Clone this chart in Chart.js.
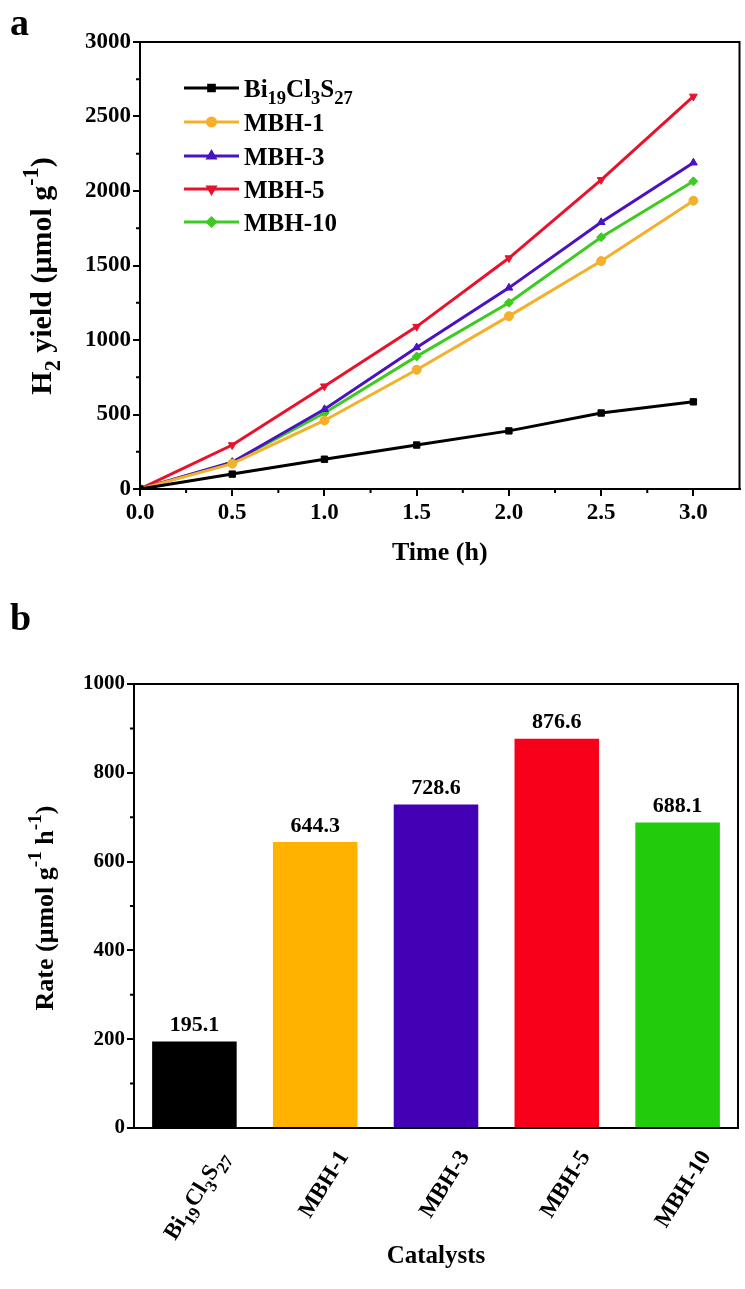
<!DOCTYPE html>
<html><head><meta charset="utf-8">
<script src="https://cdn.jsdelivr.net/npm/chart.js@4.4.1/dist/chart.umd.min.js"></script>
<style>
html,body{margin:0;padding:0;background:#fff;}
#wrap{position:relative;width:745px;height:1289px;overflow:hidden;background:#fff;}
canvas{position:absolute;left:0;}
.panel{position:absolute;font:bold 38px 'Liberation Serif',serif;color:#000;line-height:1;}
</style></head><body>
<div id="wrap">
<canvas id="ca" width="745" height="600" style="top:0"></canvas>
<canvas id="cb" width="745" height="689" style="top:600px"></canvas>
<div class="panel" style="left:10px;top:3px">a</div>
<div class="panel" style="left:10px;top:598px">b</div>
</div>
<script>
// ---------- data ----------
const timeHours = [0, 0.5, 1.0, 1.5, 2.0, 2.5, 3.0];
const yieldBi19Cl3S27 = [0, 100, 200, 295, 390, 510, 585];
const yieldMBH1 = [0, 170, 460, 800, 1160, 1530, 1935];
const yieldMBH3 = [0, 180, 535, 950, 1350, 1790, 2190];
const yieldMBH5 = [0, 295, 690, 1090, 1550, 2075, 2635];
const yieldMBH10 = [0, 180, 510, 890, 1250, 1690, 2065];
const seriesNames = ['Bi19Cl3S27', 'MBH-1', 'MBH-3', 'MBH-5', 'MBH-10'];

const catalysts = ['Bi19Cl3S27', 'MBH-1', 'MBH-3', 'MBH-5', 'MBH-10'];
const rates = [195.1, 644.3, 728.6, 876.6, 688.1];

const xTicksA = [0, 0.5, 1.0, 1.5, 2.0, 2.5, 3.0];
const xMinorA = [0.25, 0.75, 1.25, 1.75, 2.25, 2.75];
const yTicksA = [0, 500, 1000, 1500, 2000, 2500, 3000];
const yMinorA = [250, 750, 1250, 1750, 2250, 2750];
const yTicksB = [0, 200, 400, 600, 800, 1000];
const yMinorB = [100, 300, 500, 700, 900];

// ---------- styles ----------
const FONT = "'Liberation Serif', 'Times New Roman', serif";
const lineColors = ['#000000', '#F4B02A', '#4B12C2', '#E9122C', '#3DCB22'];
const barColors = ['#000000', '#FFB200', '#4300B5', '#F70019', '#22CC0A'];
const pointStyles = ['rect', 'circle', 'triangle', 'triangle', 'rectRot'];
const pointRots = [0, 0, 0, 180, 0];

// chemical formula -> rich text parts (digits as subscripts)
function formulaParts(name) {
  if (name.includes('-')) return [[name]];
  return name.match(/[A-Za-z]+|\d+/g).map(t => (/\d/.test(t) ? [t, 'sub'] : [t]));
}

function drawRich(ctx, parts, x, y, size, align) {
  let total = 0;
  const fs = p => (p[1] ? size * 0.74 : size);
  parts.forEach(p => { ctx.font = `bold ${fs(p)}px ${FONT}`; total += ctx.measureText(p[0]).width; });
  let cx = align === 'center' ? x - total / 2 : (align === 'right' ? x - total : x);
  ctx.textAlign = 'left';
  ctx.textBaseline = 'alphabetic';
  parts.forEach(p => {
    ctx.font = `bold ${fs(p)}px ${FONT}`;
    const dy = p[1] === 'sub' ? size * 0.3 : (p[1] === 'sup' ? -size * 0.45 : 0);
    ctx.fillText(p[0], cx, y + dy);
    cx += ctx.measureText(p[0]).width;
  });
}

const framePlugin = {
  id: 'frame',
  afterDraw(chart, args, opts) {
    const { ctx, chartArea: a } = chart;
    const sx = chart.scales.x, sy = chart.scales.y;
    ctx.save();
    ctx.strokeStyle = '#000';
    ctx.lineWidth = 2;
    ctx.strokeRect(a.left, a.top, a.right - a.left, a.bottom - a.top);
    ctx.beginPath();
    (opts.minorX || []).forEach(v => {
      const px = sx.getPixelForValue(v);
      ctx.moveTo(px, a.bottom); ctx.lineTo(px, a.bottom + 4);
    });
    (opts.minorY || []).forEach(v => {
      const py = sy.getPixelForValue(v);
      ctx.moveTo(a.left - 4, py); ctx.lineTo(a.left, py);
    });
    ctx.stroke();
    ctx.fillStyle = '#000';
    // rotated category labels with subscripts
    if (opts.catLabels) {
      const o = opts.catLabels;
      chart.data.labels.forEach((lab, i) => {
        ctx.save();
        ctx.translate(sx.getPixelForTick(i) + o.dx, sx.top + o.dy);
        ctx.rotate(-o.angle * Math.PI / 180);
        drawRich(ctx, formulaParts(lab), 0, o.size * 0.35, o.size, 'right');
        ctx.restore();
      });
    }
    // y title
    if (opts.yTitle) {
      ctx.translate(opts.yTitle.x, opts.yTitle.y);
      ctx.rotate(-Math.PI / 2);
      drawRich(ctx, opts.yTitle.parts, 0, 0, opts.yTitle.size, 'center');
    }
    ctx.restore();
  }
};

const legendPlugin = {
  id: 'richLegend',
  afterDraw(chart, args, opts) {
    if (!opts.rows) return;
    const ctx = chart.ctx;
    ctx.save();
    chart.data.datasets.forEach((ds, i) => {
      const y = opts.rows[i];
      ctx.strokeStyle = ds.borderColor;
      ctx.lineWidth = 3;
      ctx.beginPath(); ctx.moveTo(opts.x0, y); ctx.lineTo(opts.x1, y); ctx.stroke();
      ctx.fillStyle = ds.borderColor;
      Chart.helpers.drawPoint(ctx, { pointStyle: ds.pointStyle, radius: 4, rotation: ds.pointRotation, borderWidth: 1 }, (opts.x0 + opts.x1) / 2, y);
      ctx.fillStyle = '#000';
      drawRich(ctx, formulaParts(ds.label), opts.tx, y + opts.size * 0.34, opts.size, 'left');
    });
    ctx.restore();
  }
};

const barLabelPlugin = {
  id: 'barLabels',
  afterDatasetsDraw(chart) {
    const ctx = chart.ctx;
    const meta = chart.getDatasetMeta(0);
    ctx.save();
    ctx.font = `bold 22px ${FONT}`;
    ctx.fillStyle = '#000';
    ctx.textAlign = 'center';
    ctx.textBaseline = 'bottom';
    meta.data.forEach((bar, i) => {
      ctx.fillText(rates[i].toFixed(1), bar.x, bar.y - 5);
    });
    ctx.restore();
  }
};

// ---------- chart a ----------
const seriesA = [yieldBi19Cl3S27, yieldMBH1, yieldMBH3, yieldMBH5, yieldMBH10];
new Chart(document.getElementById('ca'), {
  type: 'line',
  data: {
    datasets: seriesA.map((arr, i) => ({
      label: seriesNames[i],
      data: timeHours.map((t, j) => ({ x: t, y: arr[j] })),
      borderColor: lineColors[i],
      backgroundColor: lineColors[i],
      pointBackgroundColor: lineColors[i],
      pointBorderColor: lineColors[i],
      borderWidth: 3,
      pointStyle: pointStyles[i],
      pointRotation: pointRots[i],
      pointRadius: 4.5,
      pointBorderWidth: 1,
      tension: 0,
      fill: false
    }))
  },
  options: {
    responsive: false,
    animation: false,
    devicePixelRatio: 1,
    layout: { padding: { top: 42, right: 4, bottom: 0, left: 0 } },
    plugins: {
      legend: { display: false },
      tooltip: { enabled: false },
      frame: {
        minorX: xMinorA, minorY: yMinorA,
        yTitle: { x: 51, y: 276, size: 30, parts: [['H'], ['2', 'sub'], [' yield (\u03bcmol g'], ['-1', 'sup'], [')']] }
      },
      richLegend: { rows: [88, 122, 156, 189, 222], x0: 184, x1: 239, tx: 244, size: 25 }
    },
    scales: {
      x: {
        type: 'linear', min: 0, max: 3.25,
        afterFit: s => { s.height = 111; },
        afterBuildTicks: s => { s.ticks = xTicksA.map(v => ({ value: v })); },
        grid: { drawOnChartArea: false, color: '#000', lineWidth: 2, tickLength: 7, tickColor: '#000' },
        border: { color: '#000', width: 2 },
        ticks: { color: '#000', font: { family: FONT, size: 23, weight: 'bold' }, padding: 3, callback: v => Number(v).toFixed(1), autoSkip: false, maxRotation: 0 },
        title: { display: true, text: 'Time (h)', color: '#000', font: { family: FONT, size: 26, weight: 'bold' }, padding: { top: 0, bottom: 31 } }
      },
      y: {
        type: 'linear', min: 0, max: 3000,
        afterFit: s => { s.width = 140; },
        afterBuildTicks: s => { s.ticks = yTicksA.map(v => ({ value: v })); },
        grid: { drawOnChartArea: false, color: '#000', lineWidth: 2, tickLength: 7, tickColor: '#000' },
        border: { color: '#000', width: 2 },
        ticks: { color: '#000', font: { family: FONT, size: 23, weight: 'bold' }, padding: 2, callback: v => String(v) }
      }
    }
  },
  plugins: [framePlugin, legendPlugin]
});

// ---------- chart b ----------
new Chart(document.getElementById('cb'), {
  type: 'bar',
  data: {
    labels: catalysts,
    datasets: [{
      label: 'Rate',
      data: rates,
      backgroundColor: barColors,
      borderWidth: 0,
      barPercentage: 0.7,
      categoryPercentage: 1.0
    }]
  },
  options: {
    responsive: false,
    animation: false,
    devicePixelRatio: 1,
    layout: { padding: { top: 84, right: 7, bottom: 0, left: 0 } },
    plugins: {
      legend: { display: false },
      tooltip: { enabled: false },
      frame: {
        minorY: yMinorB,
        catLabels: { dx: 27, dy: 24, angle: 58, size: 23 },
        yTitle: { x: 53, y: 308, size: 26, parts: [['Rate (\u03bcmol g'], ['-1', 'sup'], [' h'], ['-1', 'sup'], [')']] }
      }
    },
    scales: {
      x: {
        afterFit: s => { s.height = 161; },
        grid: { drawOnChartArea: false, drawTicks: false, color: '#000' },
        border: { color: '#000', width: 2 },
        ticks: { display: false, autoSkip: false },
        title: { display: true, text: 'Catalysts', color: '#000', font: { family: FONT, size: 25, weight: 'bold' }, padding: { top: 0, bottom: 17 } }
      },
      y: {
        min: 0, max: 1000,
        afterFit: s => { s.width = 134; },
        afterBuildTicks: s => { s.ticks = yTicksB.map(v => ({ value: v })); },
        grid: { drawOnChartArea: false, color: '#000', lineWidth: 2, tickLength: 7, tickColor: '#000' },
        border: { color: '#000', width: 2 },
        ticks: { color: '#000', font: { family: FONT, size: 21, weight: 'bold' }, padding: 2, callback: v => String(v) }
      }
    }
  },
  plugins: [framePlugin, barLabelPlugin]
});
</script>
</body></html>
